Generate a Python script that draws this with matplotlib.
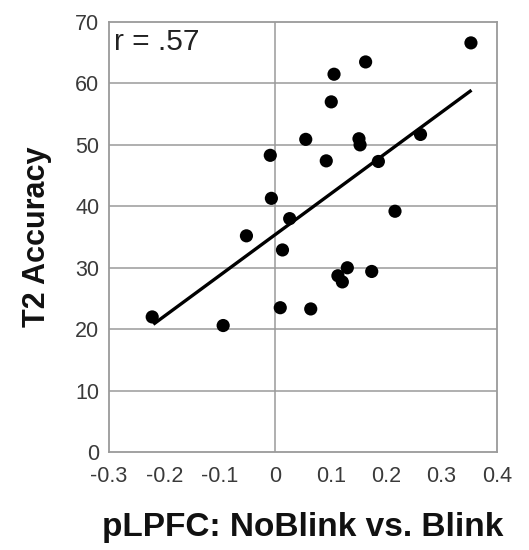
import matplotlib
matplotlib.use("Agg")
import matplotlib.pyplot as plt

plt.rcParams['font.family'] = ['Liberation Sans', 'DejaVu Sans']

# pLPFC contrast (NoBlink vs. Blink) and T2 accuracy per participant
plpfc = [0.353, 0.163, 0.106, 0.101, 0.055, 0.151, 0.153, 0.262, -0.009, 0.092,
         0.186, -0.007, 0.216, 0.026, -0.052, 0.013, 0.130, 0.113, 0.121, 0.174,
         0.009, 0.064, -0.222, -0.094]
t2_acc = [66.6, 63.5, 61.5, 57.0, 50.9, 51.0, 50.0, 51.7, 48.3, 47.4,
          47.3, 41.3, 39.2, 38.0, 35.2, 32.9, 30.0, 28.7, 27.7, 29.4,
          23.5, 23.3, 22.0, 20.6]

# regression line end points
fit_x = [-0.220, 0.354]
fit_y = [20.8, 58.9]

x_ticks = [-0.3, -0.2, -0.1, 0, 0.1, 0.2, 0.3, 0.4]
x_labels = ['-0.3', '-0.2', '-0.1', '0', '0.1', '0.2', '0.3', '0.4']
y_ticks = [0, 10, 20, 30, 40, 50, 60, 70]

fig = plt.figure(figsize=(5.29, 5.50), dpi=100)
ax = fig.add_axes([0.206, 0.178, 0.7335, 0.782])

grid_c = '#9a9a9a'
for yv in y_ticks[1:-1]:
    ax.axhline(yv, color=grid_c, lw=1.1, zorder=1)
ax.axvline(0, color=grid_c, lw=1.1, zorder=1)

ax.plot(fit_x, fit_y, color='black', lw=2.4, solid_capstyle='butt', zorder=2)
ax.scatter(plpfc, t2_acc, s=90, color='black', edgecolors='none', zorder=3)

ax.set_xlim(-0.3, 0.4)
ax.set_ylim(0, 70)
ax.set_xticks(x_ticks)
ax.set_xticklabels(x_labels)
ax.set_yticks(y_ticks)
ax.tick_params(length=0, labelsize=15.5, labelcolor='#3a3a3a')
ax.tick_params(axis='x', pad=10)
ax.tick_params(axis='y', pad=7)
for s in ax.spines.values():
    s.set_color(grid_c)
    s.set_linewidth(1.3)

ax.text(0.012, 0.985, 'r = .57', transform=ax.transAxes, ha='left', va='top',
        fontsize=21.5, color='#222222')

ax.set_xlabel('pLPFC: NoBlink vs. Blink', fontsize=24, fontweight='bold',
              color='#111111', labelpad=18)
ax.set_ylabel('T2 Accuracy', fontsize=22, fontweight='bold',
              color='#111111', labelpad=17)

fig.savefig('out.png', dpi=100, facecolor='white')
